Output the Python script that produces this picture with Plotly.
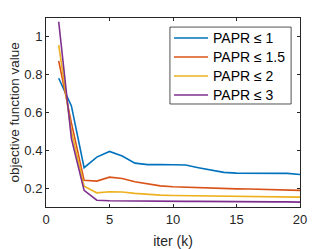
import plotly.graph_objects as go

# iterations
iters = list(range(1, 21))

# objective function value for each PAPR constraint
papr_1 = [0.781, 0.635, 0.308, 0.364, 0.394, 0.370, 0.332, 0.324, 0.325, 0.325,
          0.322, 0.308, 0.294, 0.283, 0.279, 0.279, 0.281, 0.281, 0.278, 0.272]
papr_15 = [0.873, 0.545, 0.241, 0.237, 0.258, 0.251, 0.234, 0.221, 0.212, 0.207,
           0.204, 0.202, 0.200, 0.198, 0.196, 0.195, 0.193, 0.191, 0.189, 0.188]
papr_2 = [0.956, 0.500, 0.210, 0.175, 0.181, 0.179, 0.172, 0.166, 0.163, 0.161,
          0.160, 0.160, 0.159, 0.159, 0.158, 0.157, 0.156, 0.155, 0.154, 0.152]
papr_3 = [1.080, 0.462, 0.188, 0.136, 0.133, 0.132, 0.131, 0.131, 0.131, 0.131,
          0.130, 0.130, 0.129, 0.129, 0.129, 0.128, 0.128, 0.127, 0.127, 0.126]

names = ['PAPR ≤ 1', 'PAPR ≤ 1.5', 'PAPR ≤ 2', 'PAPR ≤ 3']
colors = ['#0072BD', '#D95319', '#EDB120', '#7E2F8E']

x_ticks = [0, 5, 10, 15, 20]
y_ticks = [0.2, 0.4, 0.6, 0.8, 1.0]
y_labels = ['0.2', '0.4', '0.6', '0.8', '1']

fig = go.Figure()
for ys, name, col in zip([papr_1, papr_15, papr_2, papr_3], names, colors):
    fig.add_trace(go.Scatter(x=iters, y=ys, mode='lines', name=name, showlegend=False,
                             line=dict(color=col, width=1.6)))

axis_style = dict(showline=True, linecolor='#262626', linewidth=1, mirror='ticks',
                  ticks='inside', ticklen=3, tickcolor='#262626', showgrid=False,
                  zeroline=False, automargin=False,
                  tickfont=dict(size=13, color='#262626'))

fig.update_xaxes(range=[0, 20], tickvals=x_ticks,
                 title=dict(text='iter (k)', font=dict(size=14, color='#262626')),
                 **axis_style)
fig.update_yaxes(range=[0.1, 1.1], tickvals=y_ticks, ticktext=y_labels, **axis_style)

# y title as annotation so it sits close to the page edge like the original
fig.add_annotation(text='objective function value', textangle=-90, showarrow=False,
                   xref='paper', yref='paper', x=0, y=0.5, xanchor='center', yanchor='middle',
                   xshift=-32, font=dict(size=13.5, color='#262626'))

# boxed legend in the MATLAB style
fig.add_shape(type='rect', xref='paper', yref='paper', x0=0.488, x1=0.965, y0=0.545, y1=0.952,
              line=dict(color='#262626', width=0.8), fillcolor='white', layer='above')
for i, (name, col) in enumerate(zip(names, colors)):
    yy = 0.894 - i * 0.1005
    fig.add_shape(type='line', xref='paper', yref='paper', x0=0.504, x1=0.638, y0=yy, y1=yy,
                  line=dict(color=col, width=1.6), layer='above')
    fig.add_annotation(text=name, showarrow=False, xref='paper', yref='paper',
                       x=0.648, y=yy, xanchor='left', yanchor='middle',
                       font=dict(size=14, color='#000000'))

fig.update_layout(width=324, height=241,
                  margin=dict(l=38, r=32, t=10, b=42),
                  paper_bgcolor='white', plot_bgcolor='white',
                  font=dict(family='Liberation Sans, Arial, sans-serif', color='#262626'))

fig.write_html("out.html")
